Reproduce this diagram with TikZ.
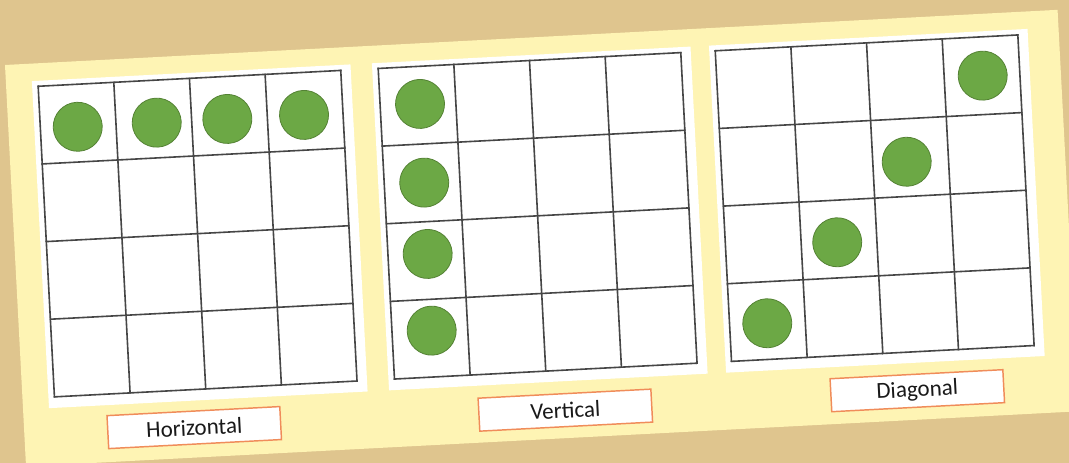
\documentclass[tikz,border=0pt]{standalone}
\usepackage{fontspec}
\setmainfont{Carlito}
\usetikzlibrary{positioning}

\definecolor{bgtan}{RGB}{223,197,142}
\definecolor{paper}{RGB}{254,244,180}
\definecolor{counter}{RGB}{108,168,69}
\definecolor{counterrim}{RGB}{84,130,52}
\definecolor{tagrim}{RGB}{240,140,90}
\definecolor{gridline}{RGB}{70,70,70}

\begin{document}
\begin{tikzpicture}[x=0.75pt, y=-0.75pt,
    card/.style={fill=white},
    cell/.style={draw=gridline, line width=1.2pt, line cap=rect},
    counter/.style={circle, fill=counter, draw=counterrim, line width=0.6pt,
      minimum size=36.75pt, inner sep=0pt},
    tag/.style={draw=tagrim, fill=white, line width=1.1pt, minimum width=129.75pt,
      minimum height=24.75pt, inner sep=0pt, text=black!90,
      font=\fontsize{17.25}{20}\selectfont}]
  \useasboundingbox (0,0) rectangle (1069,463);
  \fill[bgtan] (0,0) rectangle (1069,463);
  \clip (0,0) rectangle (1069,463);

  \begin{scope}[shift={(5,65)}, rotate=3, transform shape]
    \fill[paper] (0,0) rectangle (1054,402);

    % three 4x4 boards
    \foreach \gx in {32,372.5,710} {
      \fill[card] (\gx-6,17.5) rectangle (\gx+313,345);
      \foreach \i in {0,...,4} {
        \draw[cell] (\gx+\i*75.75,23) -- (\gx+\i*75.75,334);
        \draw[cell] (\gx,23+\i*77.75) -- (\gx+303,23+\i*77.75);
      }
    }

    % horizontal row
    \node[counter] (H1) at (69.4,65.5) {};
    \node[counter] (H2) at (148.5,65.5) {};
    \node[counter] (H3) at (219.2,65.5) {};
    \node[counter] (H4) at (296,65.5) {};

    % vertical column
    \node[counter] (V1) at (412.4,60.6) {};
    \node[counter] (V2) at (412.5,139.4) {};
    \node[counter] (V3) at (412.2,210.8) {};
    \node[counter] (V4) at (412.2,287.6) {};

    % diagonal
    \node[counter] (D1) at (747.7,297.8) {};
    \node[counter] (D2) at (821.8,220.6) {};
    \node[counter] (D3) at (895.4,143.8) {};
    \node[counter] (D4) at (975.8,61.8) {};

    \node[tag] (Hlab) at (170,372) {Horizontal};
    \node[tag] (Vlab) at (541.5,374) {Vertical};
    \node[tag] (Dlab) at (894,373) {Diagonal};
  \end{scope}
\end{tikzpicture}
\end{document}
